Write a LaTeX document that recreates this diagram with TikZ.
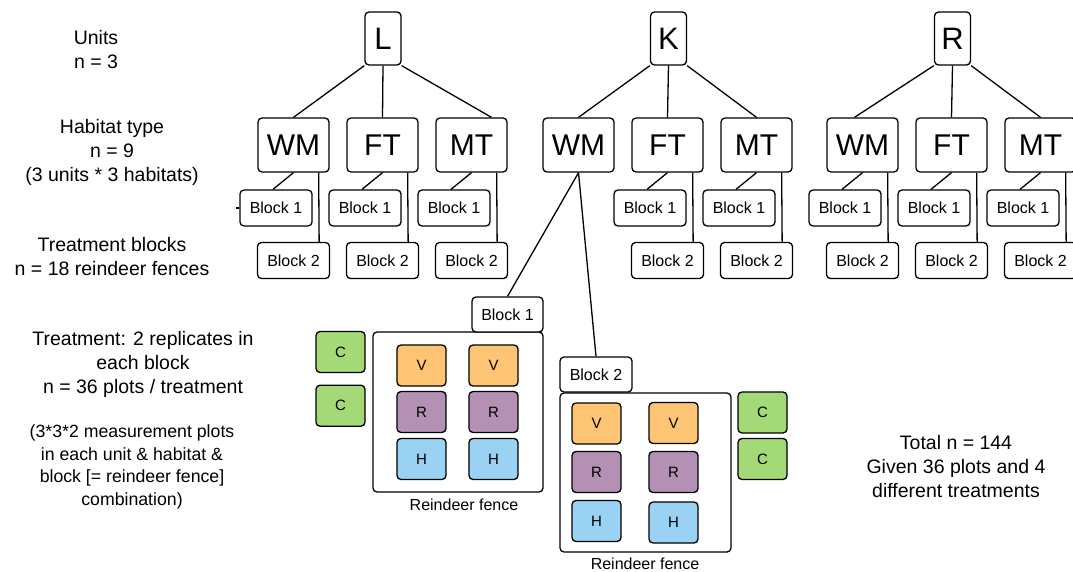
\documentclass[tikz,border=0pt]{standalone}
\usepackage{fontspec}
\setmainfont{Liberation Sans}
\usetikzlibrary{calc}
\definecolor{vcol}{RGB}{253,196,116}
\definecolor{rcol}{RGB}{180,144,180}
\definecolor{hcol}{RGB}{153,210,242}
\definecolor{ccol}{RGB}{163,217,119}
\begin{document}
\begin{tikzpicture}[x=1pt,y=-1pt,
  bx/.style={draw, rounded corners=4, line width=1.3pt, fill=white, inner sep=0pt},
  unitbox/.style={bx, minimum width=36pt, minimum height=53pt, font=\fontsize{31}{31}\selectfont},
  habbox/.style={bx, minimum width=71pt, minimum height=54pt, font=\fontsize{30}{30}\selectfont},
  blkbox/.style={bx, minimum width=72pt, minimum height=36pt, font=\fontsize{16}{16}\selectfont},
  fencebox/.style={bx},
  plotbox/.style={bx, minimum width=49pt, minimum height=41pt, font=\fontsize{15}{15}\selectfont},
  vplot/.style={plotbox, fill=vcol},
  rplot/.style={plotbox, fill=rcol},
  hplot/.style={plotbox, fill=hcol},
  cplot/.style={plotbox, fill=ccol},
  conn/.style={line width=1.3pt},
  lbl/.style={align=center, font=\fontsize{19.5}{24}\selectfont},
  smlbl/.style={align=center, font=\fontsize{17.7}{22.5}\selectfont},
  fencelbl/.style={font=\fontsize{16}{16}\selectfont}
]
\useasboundingbox (0,0) rectangle (1073,572);

% left texts
\node[lbl] (tunits) at (96,50) {Units\\n = 3};
\node[lbl] (thab) at (112,152) {Habitat type\\n = 9\\(3 units * 3 habitats)};
\node[lbl] (tblk) at (112,257) {Treatment blocks\\n = 18 reindeer fences};
\node[lbl] (ttrt) at (143,364) {Treatment: 2 replicates in\\each block\\n = 36 plots / treatment};
\node[smlbl] (tcomb) at (132,467) {(3*3*2 measurement plots\\in each unit \& habitat \&\\block [= reindeer fence]\\combination)};
\node[lbl] (ttot) at (956,467) {Total n = 144\\Given 36 plots and 4\\different treatments};

% units
\node[unitbox] (L) at (383,38.5) {L};
\node[unitbox] (K) at (668.5,38.5) {K};
\node[unitbox] (R) at (952.5,38.5) {R};

% habitats
\foreach \u/\a/\b/\c in {L/258/347/436, K/543/632/721, R/827/916/1005}{
  \node[habbox] (\u WM) at (\a+35.5,145) {WM};
  \node[habbox] (\u FT) at (\b+35.5,145) {FT};
  \node[habbox] (\u MT) at (\c+35.5,145) {MT};
}

% blocks in the tree
\foreach \h/\a in {LWM/258, LFT/347, LMT/436, KFT/632, KMT/721, RWM/827, RFT/916, RMT/1005}{
  \node[blkbox] (\h b1) at (\a+18,208) {Block 1};
  \node[blkbox] (\h b2) at (\a+35.5,260.5) {Block 2};
  \draw[conn] (\h.south) -- ($(\h b1.north)+(-3,0)$);
  \draw[conn] ($(\h.south east)+(-11,0)$) -- ($(\h b2.north east)+(-11,0)$);
}
\draw[conn] (LWMb1.west) -- ++(-3,0);

% unit to habitat connectors
\draw[conn] (L.south west) -- (LWM.north);
\draw[conn] (L.south) -- (LFT.north);
\draw[conn] (L.south east) -- ($(LMT.north)+(20,0)$);
\draw[conn] (K.south west) -- (KWM.north);
\draw[conn] (K.south) -- (KFT.north);
\draw[conn] (K.south east) -- (KMT.north);
\draw[conn] (R.south west) -- ($(RWM.north)+(-8,0)$);
\draw[conn] (R.south) -- (RFT.north);
\draw[conn] (R.south east) -- (RMT.north);

% fences
\node[fencebox, minimum width=170pt, minimum height=160pt] (F1) at (458,412) {};
\node[fencebox, minimum width=171pt, minimum height=159pt] (F2) at (645.5,472.5) {};
\node[blkbox, minimum width=71pt, minimum height=35pt] (KB1) at (507.5,314.5) {Block 1};
\node[blkbox, minimum width=72pt, minimum height=35pt] (KB2) at (596,374.5) {Block 2};
\draw[conn] (KWM.south) -- (KB1.north);
\draw[conn] (KWM.south) -- (KB2.north);

\node[fencelbl] (F1l) at (464,505) {Reindeer fence};
\node[fencelbl] (F2l) at (645,564) {Reindeer fence};

% plots fence 1
\node[vplot] (F1v1) at (421.5,365.5) {V};
\node[vplot] (F1v2) at (493.5,365.5) {V};
\node[rplot] (F1r1) at (421.5,412) {R};
\node[rplot] (F1r2) at (493.5,412) {R};
\node[hplot] (F1h1) at (421.5,459) {H};
\node[hplot] (F1h2) at (493.5,459) {H};
\node[cplot] (F1c1) at (340.5,352) {C};
\node[cplot] (F1c2) at (340.5,405.7) {C};

% plots fence 2
\node[vplot] (F2v1) at (596.5,423.5) {V};
\node[vplot] (F2v2) at (673.5,423) {V};
\node[rplot] (F2r1) at (596.5,472) {R};
\node[rplot] (F2r2) at (673.5,472) {R};
\node[hplot] (F2h1) at (596.5,521) {H};
\node[hplot] (F2h2) at (673.5,522.5) {H};
\node[cplot] (F2c1) at (762.5,412.5) {C};
\node[cplot] (F2c2) at (762.5,459) {C};
\end{tikzpicture}
\end{document}
